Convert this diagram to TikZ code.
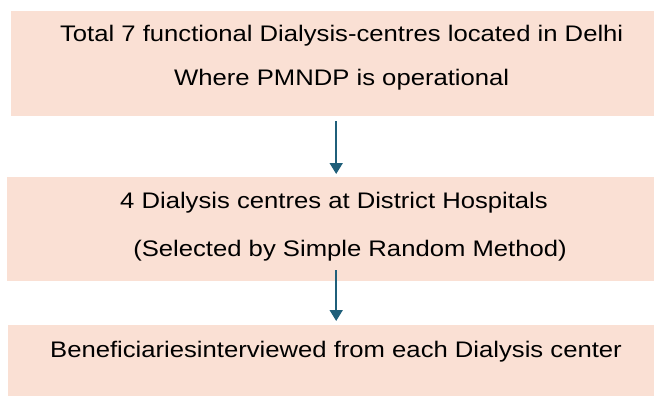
\documentclass[tikz,border=0pt]{standalone}
\usepackage{xcolor}
\usepackage{fontspec}
\setmainfont{Liberation Sans}[FakeStretch=1.14]
\usepackage{tikz}
\usetikzlibrary{arrows.meta}

\definecolor{boxpeach}{RGB}{250,224,212}
\definecolor{arrowteal}{RGB}{31,95,122}

\tikzset{
  panel/.style={fill=boxpeach, draw=none, inner sep=0pt, anchor=north west},
  caption/.style={anchor=base, inner sep=0.75pt, font=\fontsize{22.5}{27}\selectfont},
  flow/.style={draw=arrowteal, line width=1.7pt, -{Triangle[width=13pt,length=11pt]}}
}

\begin{document}
\begin{tikzpicture}[x=1pt,y=1pt,yscale=-1,xscale=1]
        \useasboundingbox (0,0) rectangle (654,396);

        \node [panel, minimum width=650pt, minimum height=105pt] (total) at (11,11) {};
        \node [panel, minimum width=658pt, minimum height=104pt] (centres) at (7,177) {};
        \node [panel, minimum width=656pt, minimum height=100pt] (beneficiaries) at (8,325) {};

        \draw (341.7,41.7) node [caption] (totalA) {Total 7 functional Dialysis-centres located in Delhi};
        \draw (341.7,86) node [caption] (totalB) {Where PMNDP is operational};
        \draw (334,208.3) node [caption] (centresA) {4 Dialysis centres at District Hospitals};
        \draw (350,256.5) node [caption] (centresB) {(Selected by Simple Random Method)};
        \draw (336,357) node [caption] (beneficiariesA) {Beneficiariesinterviewed from each Dialysis center};

        \draw [flow, shorten <=5pt, shorten >=3pt] (total) -- (centres);
        \draw [flow, shorten <=-11pt, shorten >=4pt] (centres) -- (beneficiaries);
\end{tikzpicture}
\end{document}
